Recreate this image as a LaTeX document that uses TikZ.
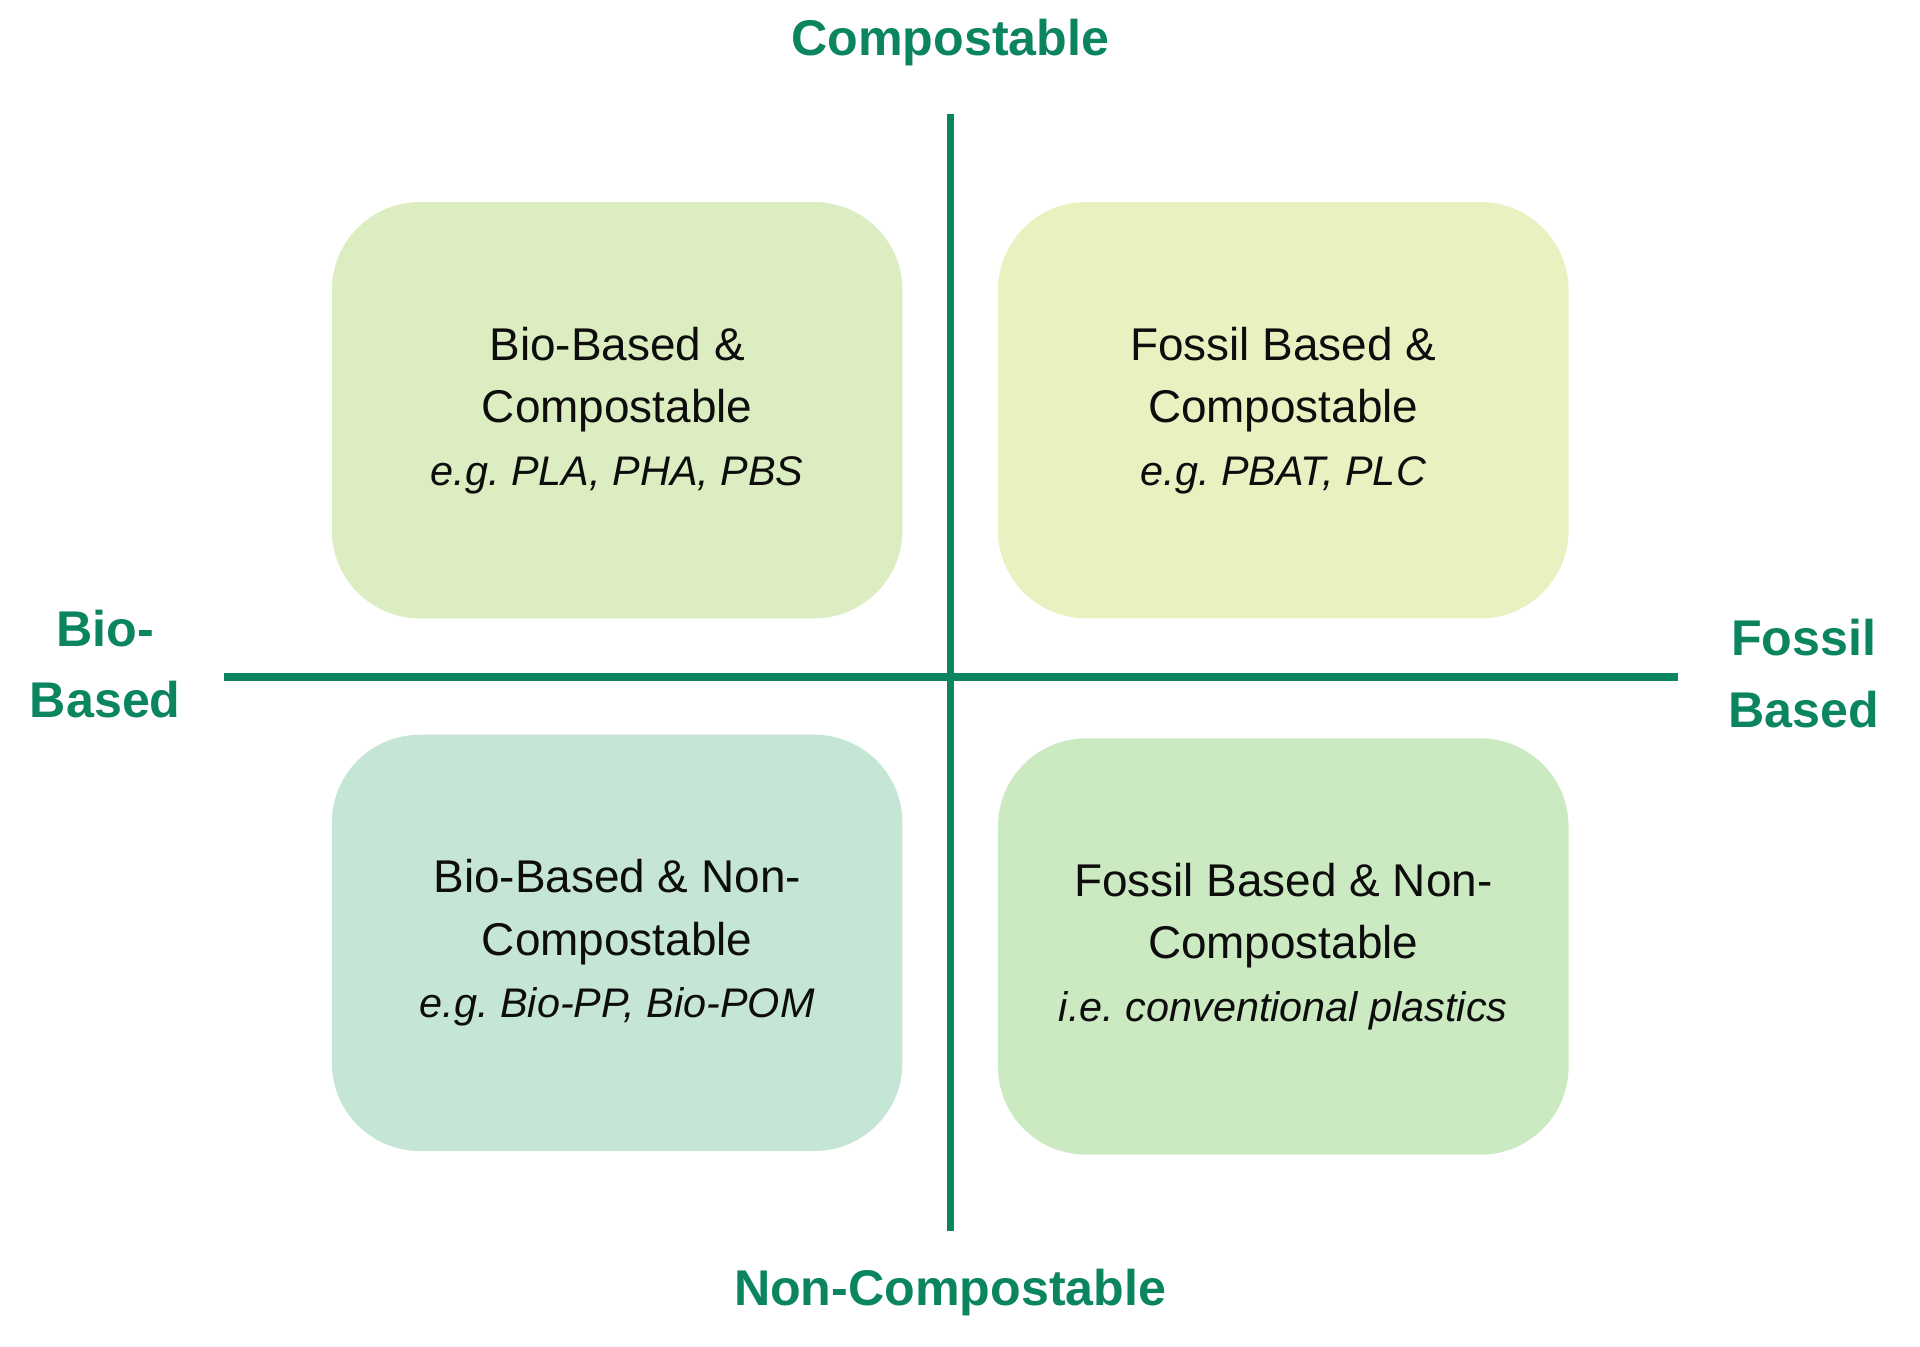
\documentclass[tikz,border=0pt]{standalone}
\usepackage{fontspec}
\setmainfont{Liberation Sans}
\definecolor{axisgreen}{RGB}{11,132,96}
\definecolor{boxTL}{RGB}{220,237,193}
\definecolor{boxTR}{RGB}{232,242,193}
\definecolor{boxBL}{RGB}{197,230,212}
\definecolor{boxBR}{RGB}{203,234,193}
\tikzset{
  quad/.style={rounded corners=72pt, minimum width=466pt, minimum height=340pt,
    inner sep=0pt, align=center, text=black!95, font=\frenchspacing\fontsize{37.5}{51}\selectfont},
  axislabel/.style={text=axisgreen, font=\bfseries\fontsize{41}{58.5}\selectfont,
    inner sep=0pt, align=center},
  axisline/.style={draw=axisgreen}
}
\newcommand{\egline}[1]{{\itshape\fontsize{33.8}{49}\selectfont #1}}
\begin{document}
\frenchspacing
\begin{tikzpicture}[x=1pt,y=-1pt]
\useasboundingbox (0,0) rectangle (1568,1100);
% boxes
\node[quad, fill=boxTL] (tl) at (504,335) {Bio-Based \&\\Compostable\\\egline{e.g. PLA, PHA, PBS}};
\node[quad, fill=boxTR] (tr) at (1048,335) {Fossil Based \&\\Compostable\\\egline{e.g. PBAT, PLC}};
\node[quad, fill=boxBL] (bl) at (504,770) {Bio-Based \& Non-\\Compostable\\\egline{e.g. Bio-PP, Bio-POM}};
\node[quad, fill=boxBR] (br) at (1048,773) {Fossil Based \& Non-\\Compostable\\\egline{i.e. conventional plastics}};
% axes
\coordinate (vtop) at (776,93);
\coordinate (vbot) at (776,1005);
\coordinate (hleft) at (183,552.5);
\coordinate (hright) at (1370,552.5);
\draw[axisline, line width=6.5pt] (hleft) -- (hright);
\draw[axisline, line width=6pt] (vtop) -- (vbot);
% axis labels
\node[axislabel, anchor=base] (comp) at (776,45.6) {Compostable};
\node[axislabel, anchor=base] (noncomp) at (776,1066.2) {Non-Compostable};
\node[axislabel] (bio) at (86,542.4) {Bio-\\Based};
\node[axislabel] (fossil) at (1473,550.2) {Fossil\\Based};
\end{tikzpicture}
\end{document}
